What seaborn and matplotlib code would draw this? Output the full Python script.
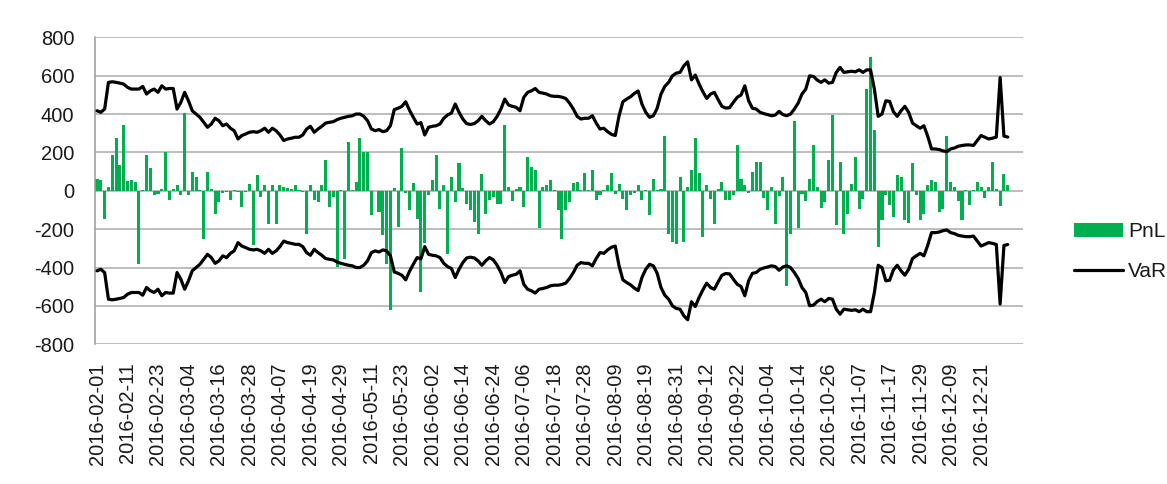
import numpy as np
import pandas as pd
import matplotlib
matplotlib.use("Agg")
import matplotlib.pyplot as plt
import seaborn as sns

# trading days (business days) Feb 1 - Dec 30 2016
dates = pd.bdate_range("2016-02-01", "2016-12-30").strftime("%Y-%m-%d").tolist()

# daily PnL
pnl = [
    62, 54, -145, 19, 187, 275, 135, 345, 50, 54,
    45, -383, 5, 187, 118, -24, -16, 8, 200, -47,
    10, 28, -24, 405, -20, 100, 74, 5, -250, 100,
    10, -120, -59, -12, -8, -50, 3, -5, -85, -5,
    36, -284, 80, -33, 28, -171, 28, -171, 28, 19,
    14, 10, 28, 4, -5, -223, 28, -50, -59, 28,
    161, -85, -33, -397, 3, -353, 256, 2, 45, 274,
    200, 200, -128, -3, -111, -232, -380, -622, 16, -189,
    222, -10, -102, 40, -145, -527, -270, -20, 54, 187,
    -94, 28, -327, 71, -59, 144, 14, -68, -102, -163,
    -223, 88, -120, -50, -33, -68, -68, 345, 19, -55,
    10, 19, -85, 178, 123, 106, -194, 19, 28, 54,
    2, -102, -249, -102, -59, 40, 45, 3, 92, 2,
    106, -50, -20, 3, 28, 92, -16, 36, -42, -102,
    -24, -10, 28, -50, 3, -128, 62, 2, 10, 284,
    -223, -267, -275, 74, -267, 19, 106, 275, 92, -241,
    31, -45, -171, 10, 45, -47, -47, -24, 239, 62,
    28, -10, 97, 152, 152, -38, -102, 19, -171, -28,
    74, -495, -223, 362, -194, -19, -55, 62, 241, 19,
    -90, -59, 161, 397, -180, 152, -223, -120, 36, 178,
    -94, -42, 533, 698, 319, -293, -154, -24, -73, -137,
    80, 74, -154, -168, 144, -24, -154, -120, 28, 54,
    45, -111, -94, 284, 48, 19, -55, -154, 3, -73,
    5, 45, 22, -38, 19, 152, 10, -81, 88, 28,
]

# VaR (plotted as +VaR and -VaR)
var = [
    417, 409, 426, 565, 568, 565, 561, 556, 539, 530,
    530, 530, 544, 504, 521, 530, 513, 547, 530, 533,
    533, 426, 461, 513, 469, 417, 400, 383, 357, 331,
    348, 378, 365, 339, 348, 326, 313, 270, 288, 296,
    305, 308, 305, 313, 326, 305, 326, 313, 291, 262,
    270, 274, 279, 279, 291, 322, 336, 305, 322, 336,
    353, 357, 360, 371, 378, 383, 388, 391, 400, 400,
    388, 365, 322, 313, 319, 308, 313, 339, 423, 430,
    440, 464, 420, 383, 348, 355, 291, 331, 336, 339,
    348, 378, 395, 405, 452, 409, 374, 350, 346, 350,
    365, 388, 365, 348, 360, 388, 426, 478, 447, 440,
    435, 417, 487, 513, 521, 533, 513, 509, 504, 495,
    492, 492, 488, 481, 457, 426, 388, 374, 378, 378,
    391, 353, 322, 326, 308, 294, 288, 391, 464, 478,
    490, 507, 520, 452, 409, 383, 391, 430, 504, 544,
    565, 599, 613, 617, 651, 672, 578, 603, 556, 516,
    481, 504, 513, 475, 440, 431, 433, 461, 487, 499,
    547, 469, 430, 426, 409, 402, 397, 391, 395, 414,
    397, 391, 400, 426, 457, 504, 530, 599, 596, 577,
    565, 578, 561, 565, 617, 643, 617, 620, 623, 620,
    630, 617, 630, 630, 530, 388, 400, 469, 466, 412,
    388, 417, 440, 409, 353, 339, 326, 339, 284, 218,
    218, 215, 208, 204, 218, 223, 232, 236, 239, 239,
    236, 262, 288, 279, 270, 274, 280, 590, 285, 280,
]

df = pd.DataFrame({"idx": np.arange(len(dates)), "date": dates, "PnL": pnl, "VaR": var})
df["negVaR"] = -df["VaR"]

sns.set_style("white")
plt.rcParams["font.family"] = ["Liberation Sans", "DejaVu Sans"]
plt.rcParams["axes.unicode_minus"] = False

fig = plt.figure(figsize=(11.67, 4.84), dpi=100)
ax = fig.add_axes([0.0815, 0.2886, 0.7951, 0.6344])

sns.barplot(data=df, x="idx", y="PnL", native_scale=True, color="#00B050", saturation=1,
            width=0.8, errorbar=None, label="PnL", ax=ax, zorder=2, linewidth=0)
sns.lineplot(data=df, x="idx", y="VaR", color="black", linewidth=2.3, label="VaR", ax=ax, zorder=3)
sns.lineplot(data=df, x="idx", y="negVaR", color="black", linewidth=2.3, ax=ax, zorder=3)
if ax.get_legend() is not None:
    ax.get_legend().remove()

ax.set_ylim(-800, 800)
ax.set_yticks(range(-800, 801, 200))
ax.set_xlim(-0.5, 243)
ax.set_xticks(df["idx"][::8])
ax.set_xticklabels(df["date"][::8], rotation=90)
ax.set_xlabel("")
ax.set_ylabel("")

ax.set_axisbelow(True)
ax.yaxis.grid(True, color="#ababab", linewidth=1.1)
ax.xaxis.grid(False)
for s in ["top", "right", "bottom"]:
    ax.spines[s].set_visible(False)
ax.spines["left"].set_color("#9a9a9a")
ax.spines["left"].set_linewidth(1.1)
ax.tick_params(axis="y", length=6, width=1.1, color="#9a9a9a", pad=9, labelsize=14.5, labelcolor="#1a1a1a")
ax.tick_params(axis="x", length=0, pad=13, labelsize=14.5, labelcolor="#1a1a1a")

handles, labels = ax.get_legend_handles_labels()
lookup = dict(zip(labels, handles))
fig.legend([lookup["PnL"], lookup["VaR"]], ["PnL", "VaR"], loc="center left",
           bbox_to_anchor=(0.904, 0.48), frameon=False, fontsize=15,
           handlelength=2.35, handletextpad=0.25, labelspacing=1.0, labelcolor="#1a1a1a")

fig.savefig("out.png", dpi=100)
